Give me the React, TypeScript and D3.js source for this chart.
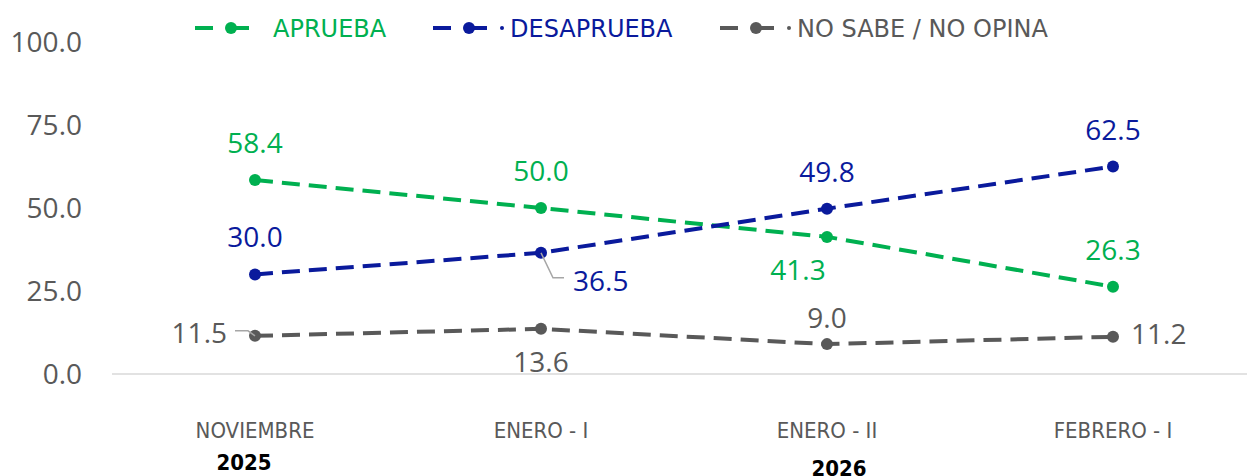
import React from "react";
import * as d3 from "d3";

const categories = ["NOVIEMBRE", "ENERO - I", "ENERO - II", "FEBRERO - I"];
const aprueba = [58.4, 50.0, 41.3, 26.3];
const desaprueba = [30.0, 36.5, 49.8, 62.5];
const noSabe = [11.5, 13.6, 9.0, 11.2];
const yTicks = [0, 25, 50, 75, 100];
const years = [
  { label: "2025", cat: 0 },
  { label: "2026", cat: 2 },
];

type LabelPos = "above" | "aboveNear" | "below" | "right" | "belowLeft" | "belowRight" | "leftLead";

const series = [
  { name: "APRUEBA", values: aprueba, color: "#00B050", pos: ["above", "above", "belowLeft", "above"] as LabelPos[] },
  { name: "DESAPRUEBA", values: desaprueba, color: "#0A1A9C", pos: ["above", "belowRight", "above", "above"] as LabelPos[] },
  { name: "NO SABE / NO OPINA", values: noSabe, color: "#595959", pos: ["leftLead", "below", "aboveNear", "right"] as LabelPos[] },
];

const W = 1247;
const H = 476;
const plotLeft = 112;
const plotRight = 1256;
const y0 = 374;
const y100 = 42;

export default function App() {
  const x = d3.scaleBand<string>().domain(categories).range([plotLeft, plotRight]);
  const cx = (c: string) => (x(c) as number) + x.bandwidth() / 2;
  const y = d3.scaleLinear().domain([0, 100]).range([y0, y100]);
  const line = d3
    .line<number>()
    .x((_, i) => cx(categories[i]))
    .y((v) => y(v));
  const font = "'Open Sans', 'Noto Sans', sans-serif";
  const legendItems = [
    { x: 195, tx: 273, dot: false },
    { x: 433, tx: 510, dot: true },
    { x: 720, tx: 797, dot: true },
  ];

  return (
    <svg width={W} height={H} style={{ position: "absolute", left: 0, top: 0 }}>
      <rect width={W} height={H} fill="#ffffff" />
      {yTicks.map((t) => (
        <text
          key={t}
          x={82}
          y={y(t)}
          dy="0.36em"
          textAnchor="end"
          fontFamily={font}
          fontSize={28}
          fill="#595959"
        >
          {t.toFixed(1)}
        </text>
      ))}
      <line x1={plotLeft} x2={W} y1={y0} y2={y0} stroke="#D9D9D9" strokeWidth={1.5} />
      {categories.map((c) => (
        <text
          key={c}
          x={cx(c)}
          y={438}
          textAnchor="middle"
          fontFamily="'DejaVu Sans Condensed', 'DejaVu Sans', sans-serif"
          fontSize={22}
          fill="#595959"
        >
          {c}
        </text>
      ))}
      {years.map((yr, i) => (
        <text
          key={yr.label}
          x={cx(categories[yr.cat]) + (i === 0 ? -11 : 12)}
          y={i === 0 ? 470 : 476}
          textAnchor="middle"
          fontFamily="'DejaVu Sans Condensed', 'DejaVu Sans', sans-serif"
          fontWeight="bold"
          fontSize={22}
          fill="#000"
        >
          {yr.label}
        </text>
      ))}
      {series.map((s) => (
        <g key={s.name}>
          <path
            d={line(s.values) as string}
            fill="none"
            stroke={s.color}
            strokeWidth={4}
            strokeDasharray="18 9"
          />
          {s.values.map((v, i) => (
            <circle key={i} cx={cx(categories[i])} cy={y(v)} r={6} fill={s.color} />
          ))}
          {s.values.map((v, i) => {
            const px = cx(categories[i]);
            const py = y(v);
            const p = s.pos[i];
            let tx = px;
            let ty = py;
            let anchor: "middle" | "start" | "end" = "middle";
            let lead: string | null = null;
            if (p === "above") ty = py - 27;
            else if (p === "aboveNear") ty = py - 16;
            else if (p === "below") ty = py + 43;
            else if (p === "right") { tx = px + 18; ty = py + 7; anchor = "start"; }
            else if (p === "belowLeft") { tx = px - 29; ty = py + 43; }
            else if (p === "belowRight") {
              tx = px + 32; ty = py + 38; anchor = "start";
              lead = `M${px},${py} L${px + 12},${py + 25} L${px + 23},${py + 25}`;
            }
            else if (p === "leftLead") {
              tx = px - 28; ty = py + 7; anchor = "end";
              lead = `M${px - 20},${py - 5} L${px - 7},${py - 5} L${px},${py}`;
            }
            return (
              <g key={"l" + i}>
                {lead && <path d={lead} fill="none" stroke="#A6A6A6" strokeWidth={1.5} />}
                <text
                  x={tx}
                  y={ty}
                  textAnchor={anchor}
                  fontFamily={font}
                  fontSize={28}
                  fill={s.color}
                >
                  {v.toFixed(1)}
                </text>
              </g>
            );
          })}
        </g>
      ))}
      {series.map((s, i) => {
        const L = legendItems[i];
        return (
          <g key={"lg" + i}>
            <line x1={L.x} x2={L.x + 18} y1={28} y2={28} stroke={s.color} strokeWidth={4} />
            <line x1={L.x + 31} x2={L.x + 54} y1={28} y2={28} stroke={s.color} strokeWidth={4} />
            <circle cx={L.x + 36} cy={28} r={6} fill={s.color} />
            {L.dot && <circle cx={L.x + 69} cy={28} r={2} fill={s.color} />}
            <text
              x={L.tx}
              y={28}
              dy="0.36em"
              fontFamily="'DejaVu Sans', sans-serif"
              fontSize={24}
              fill={s.color}
            >
              {s.name}
            </text>
          </g>
        );
      })}
    </svg>
  );
}
